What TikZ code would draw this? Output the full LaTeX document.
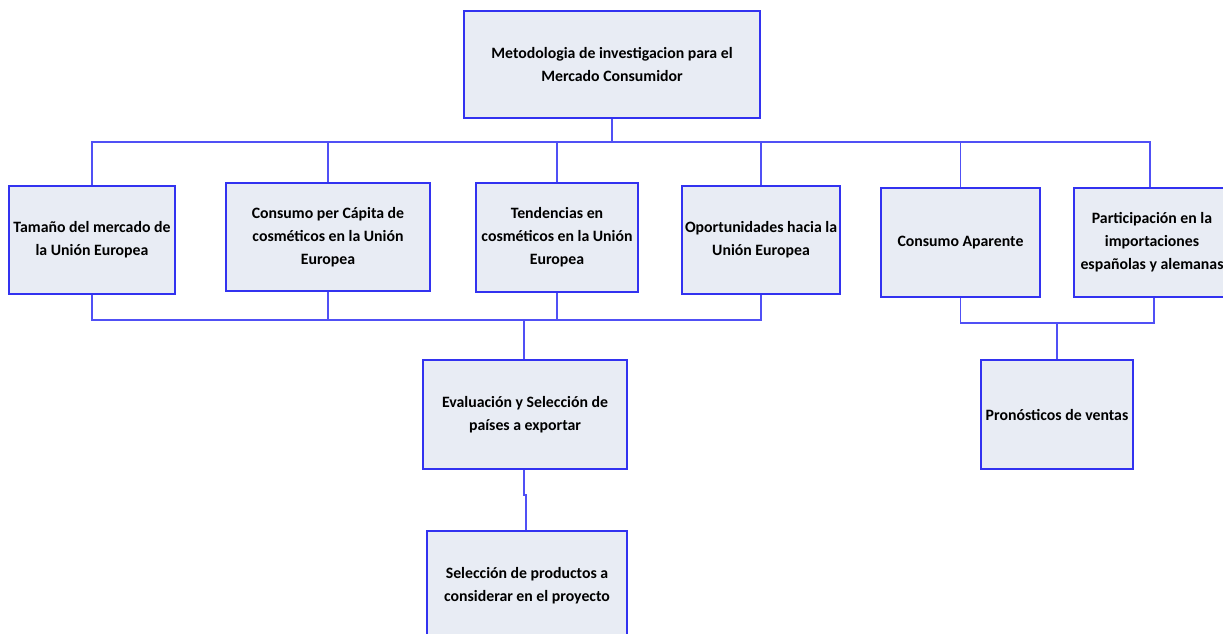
\documentclass[tikz,border=0pt]{standalone}
\usepackage{fontspec}
\setmainfont{Carlito}
\begin{document}
\begin{tikzpicture}[x=1pt,y=-1pt,
  boxstyle/.style={draw=boxblue, fill=boxfill, line width=1.2pt, align=center,
    inner sep=0pt, font=\fontsize{15.8}{23}\selectfont\bfseries, text=black},
  link/.style={draw=lineblue, line width=1.2pt}]
\definecolor{boxblue}{RGB}{50,50,240}
\definecolor{lineblue}{RGB}{80,80,245}
\definecolor{boxfill}{RGB}{232,236,244}
\useasboundingbox (0,0) rectangle (1223,633);
\clip (0,0) rectangle (1223,633);

% top-level box
\node[boxstyle, minimum width=296pt, minimum height=107pt] (top) at (612,64.5)
  {Metodologia de investigacion para el\\Mercado Consumidor};

% second row
\node[boxstyle, minimum width=166pt, minimum height=108pt] (b1) at (92,240)
  {Tamaño del mercado de\\la Unión Europea};
\node[boxstyle, minimum width=204pt, minimum height=108pt] (b2) at (328,237)
  {Consumo per Cápita de\\cosméticos en la Unión\\Europea};
\node[boxstyle, minimum width=162pt, minimum height=109pt] (b3) at (557,237.5)
  {Tendencias en\\cosméticos en la Unión\\Europea};
\node[boxstyle, minimum width=158pt, minimum height=108pt] (b4) at (761,240)
  {Oportunidades hacia la\\Unión Europea};
\node[boxstyle, minimum width=159pt, minimum height=109pt] (b5) at (960.5,242.5)
  {Consumo Aparente};
\node[boxstyle, minimum width=156pt, minimum height=109pt] (b6) at (1152,242.5)
  {Participación en la\\importaciones\\españolas y alemanas};

% third row
\node[boxstyle, minimum width=204pt, minimum height=109pt] (ev) at (525,414.5)
  {Evaluación y Selección de\\países a exportar};
\node[boxstyle, minimum width=152pt, minimum height=109pt] (pr) at (1057,414.5)
  {Pronósticos de ventas};

% bottom box
\node[boxstyle, minimum width=200pt, minimum height=110pt] (sel) at (527,586)
  {Selección de productos a\\considerar en el proyecto};

% bus levels
\coordinate (busA) at (0,142);
\coordinate (busB) at (0,320);
\coordinate (busC) at (0,323);

% top box to second row
\draw[link] (top.south) -- (top.south |- busA);
\draw[link] (b1.north) -- (b1.north |- busA) -- ([xshift=-2pt]b6.north |- busA) -- ([xshift=-2pt]b6.north);
\foreach \n in {b2,b3,b4,b5}
  \draw[link] (\n.north) -- (\n.north |- busA);

% second row to evaluation box
\draw[link] (b1.south) -- (b1.south |- busB) -- (b4.south |- busB) -- (b4.south);
\foreach \n in {b2,b3}
  \draw[link] (\n.south) -- (\n.south |- busB);
\draw[link] ([xshift=-1pt]ev.north) -- ([xshift=-1pt]ev.north |- busB);

% right group to forecast box
\draw[link] (b5.south) -- (b5.south |- busC) -- ([xshift=2pt]b6.south |- busC) -- ([xshift=2pt]b6.south);
\draw[link] (pr.north) -- (pr.north |- busC);

% evaluation to product selection
\coordinate (jog) at (524,495);
\draw[link] ([xshift=-1pt]ev.south) -- (jog) -- ++(2,0) -- ([xshift=-1pt]sel.north);
\end{tikzpicture}
\end{document}
